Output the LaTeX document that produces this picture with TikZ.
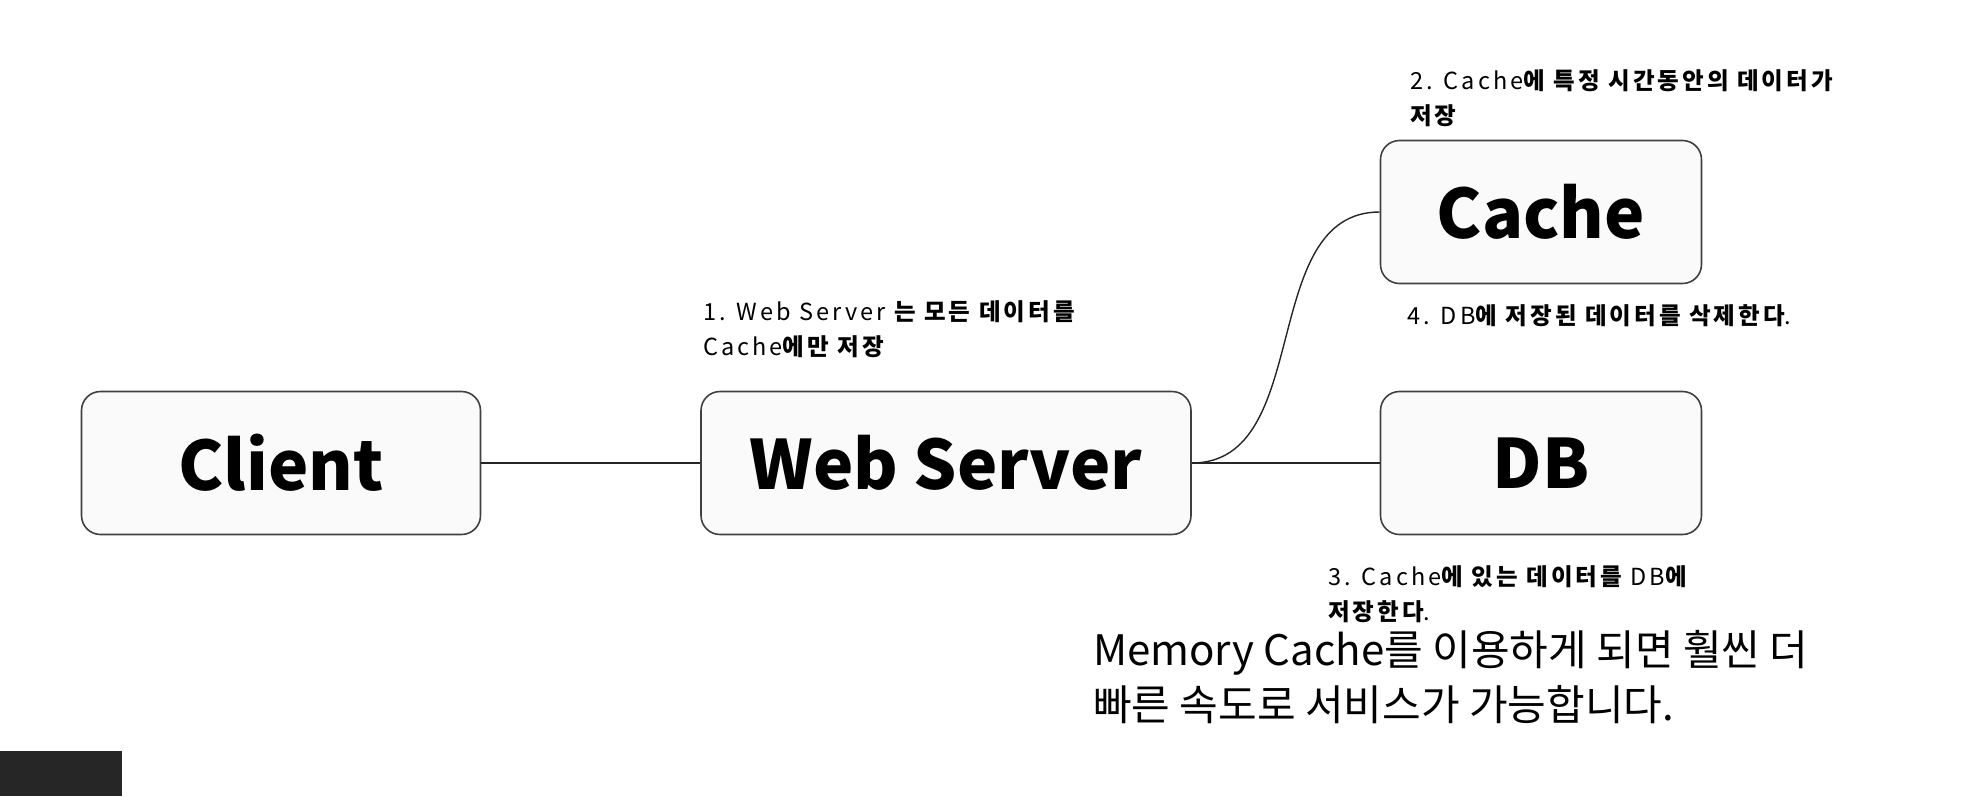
\documentclass[tikz,border=0pt]{standalone}
\usepackage{fontspec}
\setmainfont{Noto Sans CJK KR}
\newfontfamily\notefont[LetterSpace=13]{Noto Sans CJK KR}
\usepackage{tikz}
\usetikzlibrary{positioning}

\begin{document}
\begin{tikzpicture}[x=1pt, y=-1pt,
  box/.style={draw=black!75, fill=black!2, rounded corners=19pt, line width=1.6pt, minimum height=143pt, inner sep=0pt, font=\fontsize{68}{72}\selectfont\bfseries},
  wide/.style={box, minimum width=399pt},
  wider/.style={box, minimum width=490pt},
  narrow/.style={box, minimum width=321pt},
  note/.style={anchor=north west, inner sep=0pt, align=left, font=\notefont\fontsize{23.5}{35}\selectfont},
  link/.style={line width=1.4pt, black!85},
]
\useasboundingbox (0,0) rectangle (1970,796);
% === Boxes ===
\node[wide] (client) at (281,463) {Client};
\node[wider] (web) at (946,463) {Web Server};
\node[narrow] (cache) at (1541,212) {Cache};
\node[narrow] (db) at (1541,463) {DB};
% === Links ===
\draw[link] (client) -- (web);
\draw[link] (web.east) -- (db.west);
\draw[link] (web.east) to[out=0, in=180] (cache.west);
% === Notes ===
\node[note] (n1) at (703,300) {1. Web Server {\bfseries 는 모든 데이터를}\\Cache{\bfseries 에만 저장}};
\node[note] (n2) at (1410,69) {2. Cache{\bfseries 에 특정 시간동안의 데이터가}\\{\bfseries 저장}};
\node[note] (n4) at (1407,304) {4. DB{\bfseries 에 저장된 데이터를 삭제한다}.};
\node[note] (n3) at (1328,565) {3. Cache{\bfseries 에 있는 데이터를} DB{\bfseries 에}\\{\bfseries 저장한다}.};
\node[anchor=north west, inner sep=0pt, align=left, font=\fontsize{42}{55}\selectfont] (memo) at (1093,630) {Memory Cache를 이용하게 되면 훨씬 더\\빠른 속도로 서비스가 가능합니다.};
% corner of a dark image
\fill[black!85] (0,751) rectangle (122,796);
\end{tikzpicture}
\end{document}
